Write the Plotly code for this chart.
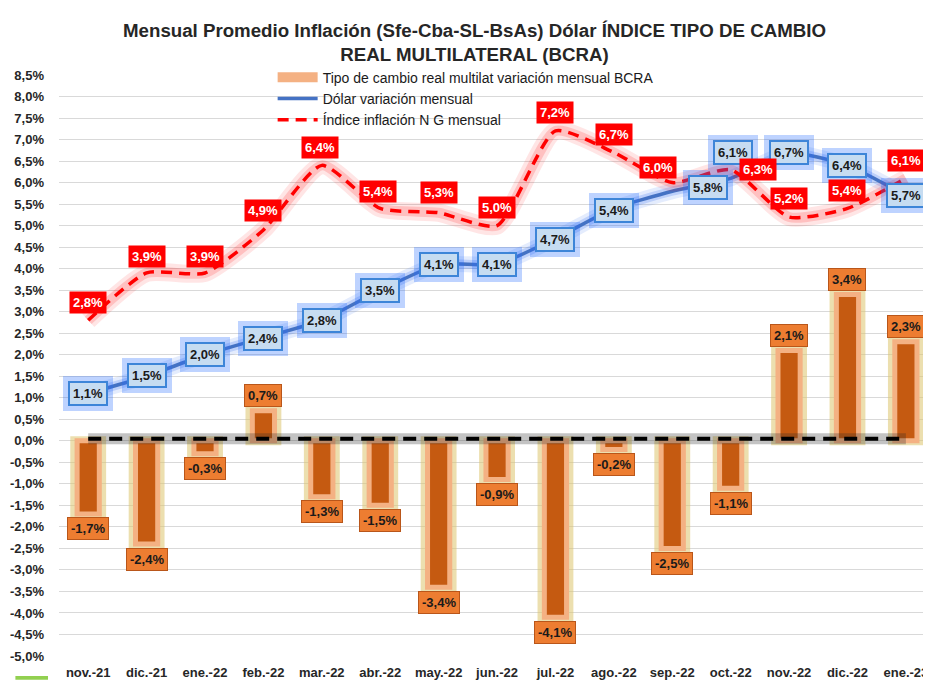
import plotly.graph_objects as go

# ---------------- data ----------------
meses = ["nov.-21", "dic.-21", "ene.-22", "feb.-22", "mar.-22", "abr.-22", "may.-22",
         "jun.-22", "jul.-22", "ago.-22", "sep.-22", "oct.-22", "nov.-22", "dic.-22", "ene.-23"]
tcrm_bcra = [-1.7, -2.4, -0.3, 0.7, -1.3, -1.5, -3.4, -0.9, -4.1, -0.2, -2.5, -1.1, 2.1, 3.4, 2.3]
dolar = [1.1, 1.5, 2.0, 2.4, 2.8, 3.5, 4.1, 4.1, 4.7, 5.4, 5.8, 6.1, 6.7, 6.4, 5.7]
inflacion = [2.8, 3.9, 3.9, 4.9, 6.4, 5.4, 5.3, 5.0, 7.2, 6.7, 6.0, 6.3, 5.2, 5.4, 6.1]
linea_cero = [0.05, 0.05, 0.05, 0.05, 0.05, 0.05, 0.05, 0.05, 0.05, 0.05, 0.05, 0.05, 0.05, 0.05, 0.05]

y_ticks = [8.5, 8.0, 7.5, 7.0, 6.5, 6.0, 5.5, 5.0, 4.5, 4.0, 3.5, 3.0, 2.5, 2.0, 1.5, 1.0, 0.5, 0.0,
           -0.5, -1.0, -1.5, -2.0, -2.5, -3.0, -3.5, -4.0, -4.5, -5.0]

name_tcrm = "Tipo de cambio real multilat variación mensual BCRA"
name_dolar = "Dólar variación mensual"
name_infl = "Índice inflación N G mensual"

# label offsets (px) – manual placement as in the original
infl_shift = [(0, 18), (0, 16), (0, 16), (0, 19), (-2, 18), (-2, 17), (0, 20), (0, 18), (0, 18),
              (0, 18), (-14, 15), (27, 0), (0, 19), (0, 18), (0, 18)]
dolar_shift = [(0, 0), (0, 1), (0, 0), (0, -1), (0, 0), (0, 0), (0, 0), (0, 0), (0, -1),
               (0, -2), (36, 4), (2, 26), (0, 0), (0, 0), (0, 0)]

LAB_FONT = "Liberation Sans, Arial, sans-serif"


def fmt(v):
    return f"{v:.1f}".replace(".", ",") + "%"


fig = go.Figure()

# ---------------- bars (glow + border + fill) ----------------
fig.add_trace(go.Bar(
    x=meses, y=tcrm_bcra, width=0.46, showlegend=False, hoverinfo="skip",
    marker=dict(color="rgba(0,0,0,0)", line=dict(color="rgba(220,196,110,0.55)", width=9)),
))
fig.add_trace(go.Bar(
    x=meses, y=tcrm_bcra, width=0.38, showlegend=False, name=name_tcrm,
    marker=dict(color="#c55a11", line=dict(color="#f4b183", width=5)),
))

# ---------------- zero reference dashed line ----------------
fig.add_trace(go.Scatter(
    x=meses, y=linea_cero, mode="lines", showlegend=False, hoverinfo="skip",
    line=dict(color="rgba(40,40,40,0.28)", width=11),
))
fig.add_trace(go.Scatter(
    x=meses, y=linea_cero, mode="lines", showlegend=False, hoverinfo="skip",
    line=dict(color="#000000", width=4, dash="13px,8px"),
))

# legend entry for bars
fig.add_trace(go.Scatter(
    x=[None], y=[None], mode="lines", name=name_tcrm, showlegend=True,
    line=dict(color="#f4b183", width=12),
))

# ---------------- dólar line ----------------
for w, a in [(16, 0.13), (9, 0.22)]:
    fig.add_trace(go.Scatter(
        x=meses, y=dolar, mode="lines", showlegend=False, hoverinfo="skip",
        line=dict(color=f"rgba(50,110,240,{a})", width=w, shape="spline", smoothing=0.5),
    ))
fig.add_trace(go.Scatter(
    x=meses, y=dolar, mode="lines", name=name_dolar,
    line=dict(color="#4472c4", width=3.5, shape="spline", smoothing=0.5),
))

# ---------------- inflación line ----------------
for w, a in [(18, 0.10), (10, 0.16)]:
    fig.add_trace(go.Scatter(
        x=meses, y=inflacion, mode="lines", showlegend=False, hoverinfo="skip",
        line=dict(color=f"rgba(255,0,0,{a})", width=w, shape="spline", smoothing=0.6),
    ))
fig.add_trace(go.Scatter(
    x=meses, y=inflacion, mode="lines", name=name_infl,
    line=dict(color="#ff0000", width=3.5, dash="11px,7px", shape="spline", smoothing=0.6),
))

# ---------------- data labels ----------------
ann = []
for m, v in zip(meses, tcrm_bcra):
    ann.append(dict(
        x=m, y=v, xref="x", yref="y", text=fmt(v), showarrow=False,
        yshift=15 if v > 0 else -15,
        font=dict(family=LAB_FONT, size=13, color="#1a1a1a", weight="bold"),
        bgcolor="#ed7d31", bordercolor="#b9561a", borderwidth=1, borderpad=3,
    ))

for m, v, (dx, dy) in zip(meses, dolar, dolar_shift):
    ann.append(dict(
        x=m, y=v, xref="x", yref="y", text=fmt(v), showarrow=False,
        xshift=dx, yshift=dy,
        font=dict(family=LAB_FONT, size=13, color="rgba(0,0,0,0)", weight="bold"),
        bgcolor="rgba(0,0,0,0)", bordercolor="rgba(40,110,255,0.30)", borderwidth=8, borderpad=2,
    ))
    ann.append(dict(
        x=m, y=v, xref="x", yref="y", text=fmt(v), showarrow=False,
        xshift=dx, yshift=dy,
        font=dict(family=LAB_FONT, size=13, color="#1a1a1a", weight="bold"),
        bgcolor="#c6dcf1", bordercolor="#3d85d8", borderwidth=2, borderpad=3,
    ))

for m, v, (dx, dy) in zip(meses, inflacion, infl_shift):
    ann.append(dict(
        x=m, y=v, xref="x", yref="y", text=fmt(v), showarrow=False,
        xshift=dx, yshift=dy,
        font=dict(family=LAB_FONT, size=13, color="#ffffff", weight="bold"),
        bgcolor="#ff0000", borderpad=3,
    ))

# the page body has an 8px default margin, so the figure is sized to the visible area
fig.update_layout(
    width=923, height=676,
    margin=dict(l=51, r=0, t=67, b=28, autoexpand=False),
    paper_bgcolor="#ffffff", plot_bgcolor="#ffffff",
    separators=",.",
    barmode="overlay",
    title=dict(
        text="Mensual Promedio Inflación (Sfe-Cba-SL-BsAs) Dólar ÍNDICE TIPO DE CAMBIO<br>REAL MULTILATERAL (BCRA)",
        x=0.5054, xref="container", xanchor="center",
        y=0.957, yref="container", yanchor="top",
        font=dict(family="Liberation Sans, sans-serif", size=18.7,
                  color="#262626", weight="bold"),
    ),
    xaxis=dict(
        type="category", range=[-0.5, 14.43], showgrid=False, zeroline=False, showline=False,
        ticks="", ticklabelstandoff=7, automargin=False,
        tickfont=dict(family=LAB_FONT, size=13, color="#262626", weight="bold"),
    ),
    yaxis=dict(
        range=[-5.0, 8.5], tickmode="array", tickvals=y_ticks, ticktext=[fmt(v) for v in y_ticks],
        showgrid=True, gridcolor="#d9d9d9", gridwidth=1, zeroline=False, showline=False,
        ticks="", ticklabelstandoff=14, automargin=False,
        tickfont=dict(family=LAB_FONT, size=13, color="#262626", weight="bold"),
    ),
    legend=dict(
        x=0.245, y=1.023, xanchor="left", yanchor="top",
        bgcolor="rgba(0,0,0,0)", borderwidth=0, tracegroupgap=0, itemwidth=40,
        font=dict(family=LAB_FONT, size=14, color="#1a1a1a"),
        traceorder="normal",
    ),
    annotations=ann,
    shapes=[
        dict(type="rect", xref="paper", yref="paper", x0=-0.0596, x1=1.1, y0=-0.2, y1=1.117,
             line=dict(color="#d9d9d9", width=1), fillcolor="rgba(0,0,0,0)", layer="below"),
        dict(type="rect", xref="paper", yref="paper", x0=-0.05, x1=-0.0126, y0=-0.041, y1=-0.0345,
             line=dict(width=0), fillcolor="#92d050"),
    ],
)

fig.write_html("out.html")
